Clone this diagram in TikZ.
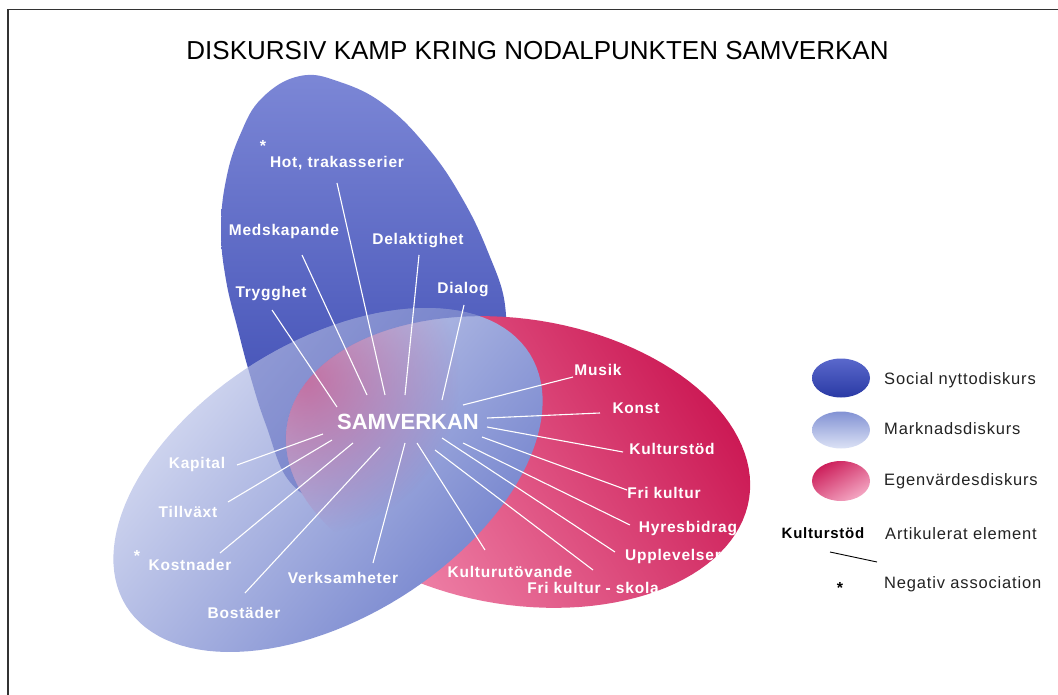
\documentclass[tikz,border=0pt]{standalone}
\usepackage{fontspec}
\setmainfont{Liberation Sans}
\newfontfamily\labfont[LetterSpace=5]{Liberation Sans}
\newfontfamily\legfont[LetterSpace=5]{Liberation Sans}
\usetikzlibrary{fadings}
\definecolor{dblueT}{HTML}{7C87D6}
\definecolor{dblueB}{HTML}{3443AE}
\definecolor{lbpale}{HTML}{D8DDF2}
\definecolor{lblue}{HTML}{8A98D8}
\definecolor{lbdeep}{HTML}{7080CC}
\definecolor{pinkD}{HTML}{CC1A55}
\definecolor{pinkL}{HTML}{F28CB0}
\definecolor{mauve}{HTML}{C8407A}
\definecolor{framecol}{HTML}{333333}
\definecolor{legtext}{HTML}{222222}
\definecolor{lgdT}{HTML}{5A68CC}
\definecolor{lgdB}{HTML}{2A3AA4}
\definecolor{lglT}{HTML}{8292D4}
\definecolor{lglB}{HTML}{DCE2F5}
\definecolor{lgpT}{HTML}{CC1E5A}
\definecolor{lgpB}{HTML}{F4A8C4}
\tikzfading[name=radfade, inner color=transparent!0, outer color=transparent!100]
\def\darkpath{plot[smooth cycle, tension=0.7] coordinates {
 (300,76) (340,82) (385,105) (428,148) (462,198) (488,252) (505,305) (500,350) (472,405) (448,455) (400,490) (330,500) (290,482) (266,425) (250,375) (238,330) (226,280) (221,230) (226,180) (240,135) (262,98)}}
\def\pinkpath{plot[domain=0:360, samples=121, variable=\t] ({518+231.1*cos(\t)+22.4*sin(\t)}, {462+36.6*cos(\t)-141.2*sin(\t)}) -- cycle}
\def\lbpath{plot[domain=0:360, samples=121, variable=\t] ({328+201.8*cos(\t)-73.1*sin(\t)}, {480-126.1*cos(\t)-117.0*sin(\t)}) -- cycle}
\begin{document}
\begin{tikzpicture}[x=1pt,y=-1pt,
  lab/.style={font=\labfont\bfseries\fontsize{15.5}{17}\selectfont, text=white, inner sep=0pt, anchor=base},
  sam/.style={font=\bfseries\fontsize{22}{24}\selectfont, text=white, inner sep=0pt, anchor=base},
  wstar/.style={font=\bfseries\fontsize{16}{18}\selectfont, text=white, inner sep=0pt, anchor=base},
  leg/.style={font=\legfont\fontsize{16.5}{18}\selectfont, text=legtext, inner sep=0pt, anchor=base west},
  legb/.style={font=\labfont\bfseries\fontsize{15}{17}\selectfont, text=black, inner sep=0pt, anchor=base},
  spoke/.style={white, line width=1.1pt},
  frameline/.style={framecol, line width=1.3pt}]
\useasboundingbox (0,0) rectangle (1058,695);
\draw[frameline] (8,695) -- (8,9.5) -- (1058,9.5);
\node[font=\fontsize{26}{28}\selectfont, inner sep=0pt, anchor=base] (title) at (537.5,59.5) {DISKURSIV KAMP KRING NODALPUNKTEN SAMVERKAN};

% discourse fields
\shade[top color=dblueT, bottom color=dblueB] \darkpath;
\shade[top color=pinkD, bottom color=pinkL, shading angle=-58] \pinkpath;
\shade[top color=lbpale, middle color=lblue, bottom color=lbdeep, shading angle=50] \lbpath;
% social discourse seen through the market discourse
\begin{scope}
  \clip \darkpath;
  \clip \lbpath;
  \fill[dblueB, opacity=0.38, even odd rule] (200,300) rectangle (560,540) \pinkpath;
\end{scope}
% intrinsic-value discourse seen through the market discourse
\begin{scope}
  \clip \lbpath;
  \clip \pinkpath;
  \fill[mauve, opacity=0.62, path fading=radfade] (305,380) circle (155);
\end{scope}

% labels
\node[sam] (sam) at (408,429) {SAMVERKAN};
\node[lab] (hot) at (337,168) {Hot, trakasserier};
\node[wstar] (hotstar) at (263,152) {*};
\node[lab] (med) at (284,236) {Medskapande};
\node[lab] (del) at (418,245) {Delaktighet};
\node[lab] (try) at (271,298) {Trygghet};
\node[lab] (dia) at (463,294) {Dialog};
\node[lab] (kap) at (197,468) {Kapital};
\node[lab] (til) at (188,517) {Tillväxt};
\node[lab] (kost) at (190,570) {Kostnader};
\node[wstar] (koststar) at (137,561) {*};
\node[lab] (bos) at (244,618) {Bostäder};
\node[lab] (verk) at (343,583) {Verksamheter};
\node[lab] (mus) at (598,375) {Musik};
\node[lab] (kon) at (636,413) {Konst};
\node[lab] (kst) at (672,454) {Kulturstöd};
\node[lab] (fri) at (664,498) {Fri kultur};
\node[lab] (hyr) at (688,532) {Hyresbidrag};
\node[lab] (upp) at (673,560) {Upplevelser};
\node[lab] (kut) at (510,577) {Kulturutövande};
\node[lab] (fks) at (593,593) {Fri kultur - skola};

% spoke end points
\coordinate (hot-a) at (337,183);  \coordinate (hot-b) at (385,395);
\coordinate (med-a) at (302,255);  \coordinate (med-b) at (367,395);
\coordinate (del-a) at (419,255);  \coordinate (del-b) at (405,395);
\coordinate (try-a) at (272,310);  \coordinate (try-b) at (337,407);
\coordinate (dia-a) at (464,305);  \coordinate (dia-b) at (442,400);
\coordinate (mus-a) at (573,377);  \coordinate (mus-b) at (463,405);
\coordinate (kon-a) at (600,413);  \coordinate (kon-b) at (487,418);
\coordinate (kst-a) at (623,452);  \coordinate (kst-b) at (487,427);
\coordinate (fri-a) at (627,490);  \coordinate (fri-b) at (482,437);
\coordinate (hyr-a) at (630,525);  \coordinate (hyr-b) at (463,443);
\coordinate (upp-a) at (615,552);  \coordinate (upp-b) at (442,438);
\coordinate (fks-a) at (593,570);  \coordinate (fks-b) at (435,450);
\coordinate (kut-a) at (485,550);  \coordinate (kut-b) at (417,443);
\coordinate (verk-a) at (373,563); \coordinate (verk-b) at (405,443);
\coordinate (bos-a) at (245,593);  \coordinate (bos-b) at (380,447);
\coordinate (kost-a) at (220,553); \coordinate (kost-b) at (353,443);
\coordinate (til-a) at (228,502);  \coordinate (til-b) at (332,440);
\coordinate (kap-a) at (237,465);  \coordinate (kap-b) at (323,434);
\foreach \s in {hot,med,del,try,dia,mus,kon,kst,fri,hyr,upp,fks,kut,verk,bos,kost,til,kap}
  \draw[spoke] (\s-a) -- (\s-b);

% legend
\shade[top color=lgdT, bottom color=lgdB] (841,378) ellipse (29 and 19.5);
\shade[top color=lglT, bottom color=lglB] (841,430) ellipse (29 and 18.5);
\shade[top color=lgpT, bottom color=lgpB, shading angle=30] (841,481) ellipse (29 and 20);
\node[leg] (l1) at (884,384) {Social nyttodiskurs};
\node[leg] (l2) at (884,434) {Marknadsdiskurs};
\node[leg] (l3) at (884,485) {Egenvärdesdiskurs};
\node[legb] (lk) at (823,538) {Kulturstöd};
\node[leg] (l4) at (885,539) {Artikulerat element};
\coordinate (lga) at (830,552);
\coordinate (lgb) at (877,562);
\draw[black, line width=0.9pt] (lga) -- (lgb);
\node[font=\bfseries\fontsize{16}{18}\selectfont, inner sep=0pt, anchor=base] (lstar) at (840,593) {*};
\node[leg] (l5) at (884,588) {Negativ association};
\end{tikzpicture}
\end{document}
